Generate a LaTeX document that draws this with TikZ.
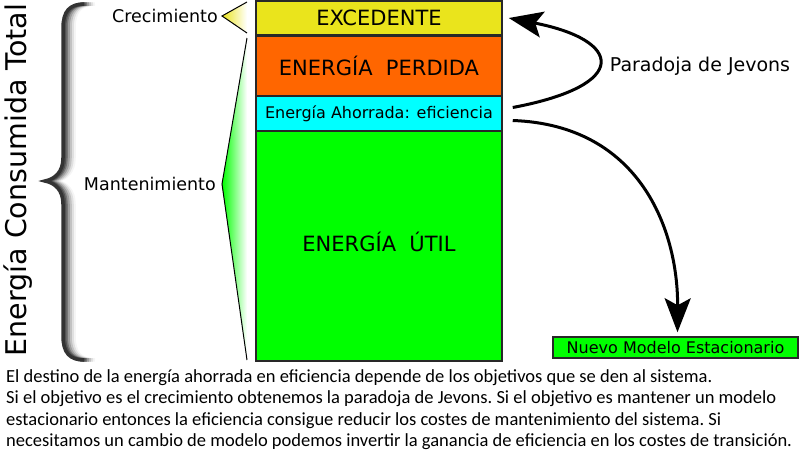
\documentclass[tikz,border=0pt]{standalone}
\usepackage{fontspec}
\setmainfont{DejaVu Sans}
\newfontfamily\notefont{Carlito}
\usetikzlibrary{arrows.meta,calc}

\definecolor{excedente}{RGB}{234,228,28}
\definecolor{perdida}{RGB}{255,102,0}
\definecolor{ahorro}{RGB}{0,255,255}
\definecolor{util}{RGB}{0,255,0}
\definecolor{borde}{RGB}{40,40,40}

\tikzset{
  bloque/.style={draw=borde, line width=1.5pt, minimum width=246pt,
    inner sep=0pt, font=\fontsize{21}{24}\selectfont},
  etiqueta/.style={inner sep=0pt, font=\fontsize{17.5}{20}\selectfont},
  flecha/.style={line width=3pt, -{Stealth[length=34pt,width=26pt,inset=7pt]}},
}

\begin{document}
\begin{tikzpicture}[x=1pt,y=-1pt]
  \useasboundingbox (0,0) rectangle (800,451);

  %–– Bloques de energia ––
  \node[bloque, fill=excedente, minimum height=34pt] (exc) at (379,18) {EXCEDENTE};
  \node[bloque, fill=perdida, minimum height=60pt] (perd) at (379,66) {ENERGÍA\ \ PERDIDA};
  \node[bloque, fill=ahorro, minimum height=35pt, font=\fontsize{16}{19}\selectfont]
    (ahorro) at (379,113.5) {Energía Ahorrada: eficiencia};
  \node[bloque, fill=util, minimum height=230pt] (util) at (379,246) {};
  \node[inner sep=0pt, font=\fontsize{21}{24}\selectfont] (utiltxt) at (379,242) {ENERGÍA\ \ ÚTIL};

  %–– Crecimiento ––
  \shade[left color=excedente, right color=white]
    (222,16) -- (247,2) -- (247,33) -- cycle;
  \draw[line width=1pt] (247,2) -- (222,16) -- (247,33);
  \node[etiqueta, anchor=east] (crec) at (218,16) {Crecimiento};

  %–– Mantenimiento ––
  \shade[left color=util, right color=white]
    (222,184) -- (247,38) -- (247,360) -- cycle;
  \draw[line width=1pt] (247,38) -- (222,184) -- (247,360);
  \node[etiqueta, anchor=east] (mant) at (216,184) {Mantenimiento};

  %–– Llave ––
  \foreach \dx/\tono in {11/black!4, 9/black!12, 7/black!24, 5/black!38, 3/black!54, 1.5/black!68, 0/black!80}
    \draw[\tono, line width=3.5pt, xshift=\dx]
      (84,4) .. controls (70,4) and (63,11) .. (63,28) -- (63,158)
      .. controls (63,172) and (55,179) .. (45,181)
      .. controls (55,183) and (63,190) .. (63,204) -- (63,336)
      .. controls (63,353) and (70,360) .. (84,360);

  \node[rotate=90, anchor=base, inner sep=0pt, font=\fontsize{28.5}{32}\selectfont]
    (total) at (27,180) {Energía Consumida Total};

  %–– Destinos ––
  \node[bloque, fill=util, minimum width=245pt, minimum height=21pt,
    font=\fontsize{16}{19}\selectfont] (nuevo) at (675.5,347.5) {Nuevo Modelo Estacionario};
  \node[inner sep=0pt, font=\fontsize{19}{22}\selectfont] (jevons) at (700,66) {Paradoja de Jevons};

  \draw[flecha] ([xshift=10pt,yshift=6pt]ahorro.east)
    .. controls (632,85) and (622,40) .. ([xshift=6pt]exc.east);
  \draw[flecha] ([xshift=10pt,yshift=-7pt]ahorro.east)
    .. controls (640,125) and (678,230) .. ([xshift=2pt,yshift=4pt]nuevo.north);

  %–– Texto ––
  \node[anchor=north west, inner sep=0pt, align=left,
    font=\notefont\fontsize{18.5}{21.6}\selectfont\frenchspacing] (nota) at (6,369)
    {El destino de la energía ahorrada en eficiencia depende de los objetivos que se den al sistema.\\
     Si el objetivo es el crecimiento obtenemos la paradoja de Jevons. Si el objetivo es mantener un modelo\\
     estacionario entonces la eficiencia consigue reducir los costes de mantenimiento del sistema. Si\\
     necesitamos un cambio de modelo podemos invertir la ganancia de eficiencia en los costes de transición.};
\end{tikzpicture}
\end{document}
